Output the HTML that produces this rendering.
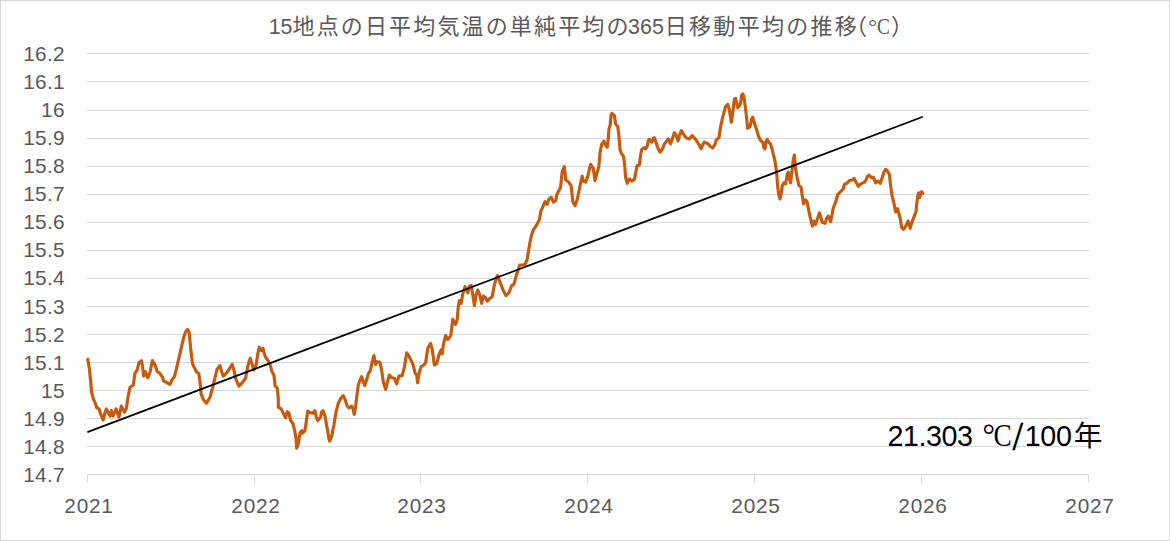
<!DOCTYPE html>
<html lang="ja"><head><meta charset="utf-8"><title>15地点の日平均気温の単純平均の365日移動平均の推移</title>
<style>html,body{margin:0;padding:0;background:#fff;overflow:hidden}body{width:1170px;height:541px;position:relative;font-family:"Liberation Sans",sans-serif}svg{position:absolute;left:0;top:0;display:block}text{font-kerning:none}</style>
</head><body>
<svg width="1170" height="541" viewBox="0 0 1170 541" role="img" aria-label="15地点の日平均気温の単純平均の365日移動平均の推移（℃）">
<rect x="0" y="0" width="1170" height="541" fill="#ffffff"/>
<rect x="0.5" y="0.5" width="1169" height="540" fill="none" stroke="#d9d9d9" stroke-width="1"/>
<path d="M87.0 53.5H1089.0M87.0 81.5H1089.0M87.0 110.5H1089.0M87.0 138.5H1089.0M87.0 166.5H1089.0M87.0 194.5H1089.0M87.0 222.5H1089.0M87.0 250.5H1089.0M87.0 278.5H1089.0M87.0 306.5H1089.0M87.0 334.5H1089.0M87.0 362.5H1089.0M87.0 390.5H1089.0M87.0 418.5H1089.0M87.0 446.5H1089.0M87.0 474.5H1089.0" stroke="#d9d9d9" stroke-width="1" fill="none" shape-rendering="crispEdges"/>
<path d="M87.5 474.5V483.0M254.5 474.5V483.0M420.5 474.5V483.0M587.5 474.5V483.0M754.5 474.5V483.0M921.5 474.5V483.0M1088.5 474.5V483.0" stroke="#d9d9d9" stroke-width="1" fill="none" shape-rendering="crispEdges"/>
<g font-family="Liberation Sans, sans-serif" fill="#595959">
<text x="64.50" y="60.90" font-size="20.8" text-anchor="end" textLength="41.29" lengthAdjust="spacing">16.2</text>
<text x="64.50" y="88.97" font-size="20.8" text-anchor="end" textLength="41.29" lengthAdjust="spacing">16.1</text>
<text x="64.50" y="117.03" font-size="20.8" text-anchor="end" textLength="23.60" lengthAdjust="spacing">16</text>
<text x="64.50" y="145.10" font-size="20.8" text-anchor="end" textLength="41.29" lengthAdjust="spacing">15.9</text>
<text x="64.50" y="173.17" font-size="20.8" text-anchor="end" textLength="41.29" lengthAdjust="spacing">15.8</text>
<text x="64.50" y="201.23" font-size="20.8" text-anchor="end" textLength="41.29" lengthAdjust="spacing">15.7</text>
<text x="64.50" y="229.30" font-size="20.8" text-anchor="end" textLength="41.29" lengthAdjust="spacing">15.6</text>
<text x="64.50" y="257.37" font-size="20.8" text-anchor="end" textLength="41.29" lengthAdjust="spacing">15.5</text>
<text x="64.50" y="285.43" font-size="20.8" text-anchor="end" textLength="41.29" lengthAdjust="spacing">15.4</text>
<text x="64.50" y="313.50" font-size="20.8" text-anchor="end" textLength="41.29" lengthAdjust="spacing">15.3</text>
<text x="64.50" y="341.57" font-size="20.8" text-anchor="end" textLength="41.29" lengthAdjust="spacing">15.2</text>
<text x="64.50" y="369.63" font-size="20.8" text-anchor="end" textLength="41.29" lengthAdjust="spacing">15.1</text>
<text x="64.50" y="397.70" font-size="20.8" text-anchor="end" textLength="23.60" lengthAdjust="spacing">15</text>
<text x="64.50" y="425.77" font-size="20.8" text-anchor="end" textLength="41.29" lengthAdjust="spacing">14.9</text>
<text x="64.50" y="453.83" font-size="20.8" text-anchor="end" textLength="41.29" lengthAdjust="spacing">14.8</text>
<text x="64.50" y="481.90" font-size="20.8" text-anchor="end" textLength="41.29" lengthAdjust="spacing">14.7</text>
<text x="88.60" y="512.50" font-size="20.8" text-anchor="middle" textLength="48.59" lengthAdjust="spacing">2021</text>
<text x="255.60" y="512.50" font-size="20.8" text-anchor="middle" textLength="48.59" lengthAdjust="spacing">2022</text>
<text x="421.60" y="512.50" font-size="20.8" text-anchor="middle" textLength="48.59" lengthAdjust="spacing">2023</text>
<text x="588.60" y="512.50" font-size="20.8" text-anchor="middle" textLength="48.59" lengthAdjust="spacing">2024</text>
<text x="755.60" y="512.50" font-size="20.8" text-anchor="middle" textLength="48.59" lengthAdjust="spacing">2025</text>
<text x="922.60" y="512.50" font-size="20.8" text-anchor="middle" textLength="48.59" lengthAdjust="spacing">2026</text>
<text x="1089.60" y="512.50" font-size="20.8" text-anchor="middle" textLength="48.59" lengthAdjust="spacing">2027</text>
</g>
<path d="M87.8 359.4L89.4 368.9L90.6 381.0L91.7 392.8L93.3 398.9L95.6 403.9L96.7 407.8L99.1 408.9L100.6 413.9L103.1 420.0L105.0 412.8L106.4 408.9L109.1 414.4L110.0 416.1L111.4 410.6L113.0 416.1L116.1 408.9L118.9 417.2L121.3 406.1L124.4 412.2L126.4 408.3L127.8 398.3L130.0 387.2L133.3 385.0L135.0 373.0L137.2 370.0L138.9 362.8L141.4 360.6L142.6 366.7L143.6 376.1L145.6 371.7L147.6 377.8L149.8 373.3L152.4 360.6L155.3 365.6L157.2 371.7L160.0 373.3L162.8 377.8L163.3 380.6L170.0 384.4L172.2 379.4L174.4 376.7L176.4 368.9L180.0 353.3L183.9 336.7L185.6 331.7L187.6 329.4L189.1 332.2L190.6 347.8L192.4 363.3L194.4 367.8L196.7 372.2L198.7 373.3L200.0 381.5L201.1 393.9L203.3 399.4L206.4 403.3L210.0 397.2L212.8 387.2L215.6 375.0L217.2 368.9L220.0 365.6L221.7 371.7L223.3 376.1L227.2 372.2L229.4 368.9L232.2 364.4L234.1 370.6L235.6 378.3L238.9 386.1L242.2 382.8L245.6 378.3L247.8 366.1L250.2 358.3L252.2 364.4L253.7 370.0L256.1 365.0L257.8 353.9L259.2 347.2L261.4 350.6L263.0 348.3L265.0 356.1L268.3 361.1L270.6 366.1L271.7 371.1L273.9 375.0L275.2 386.1L277.2 387.8L278.3 398.3L278.3 407.2L281.1 408.9L283.3 413.3L285.6 417.8L287.2 411.7L288.9 412.8L290.6 420.6L292.8 423.3L294.4 429.4L295.9 437.2L296.7 448.3L298.3 443.9L300.0 432.8L301.7 430.6L302.2 433.3L304.8 431.1L306.1 422.8L307.8 411.1L310.6 412.8L312.8 413.3L315.0 410.6L316.3 417.2L317.8 420.6L320.6 417.2L321.7 411.7L323.0 410.6L325.0 416.1L327.2 428.3L328.9 438.3L329.7 441.1L331.7 436.1L333.9 425.0L336.1 411.7L338.3 403.3L341.1 397.8L343.3 395.6L345.0 399.4L347.2 406.1L348.9 407.8L351.7 406.1L353.3 409.4L354.2 414.4L355.6 407.2L356.7 397.0L358.3 385.0L360.0 380.0L361.7 376.7L363.3 381.7L364.8 385.6L366.7 379.4L368.3 373.9L370.3 370.6L372.2 361.7L373.9 355.6L375.6 364.4L377.2 361.7L380.0 362.2L381.7 370.6L383.3 381.7L385.6 389.4L387.2 382.8L389.4 375.0L391.7 377.8L394.4 378.3L396.7 383.9L398.9 376.1L402.2 375.6L404.4 367.2L406.7 352.8L408.9 356.1L412.8 363.9L415.0 372.8L416.7 375.6L417.6 382.8L418.9 373.9L421.1 366.7L423.9 365.0L425.6 362.8L427.8 348.3L430.6 343.3L432.2 349.4L433.3 357.2L434.4 365.0L436.7 363.9L438.9 355.0L441.1 350.0L442.2 353.9L443.3 345.0L445.6 335.6L447.8 339.4L450.6 336.1L451.7 328.3L452.8 319.4L455.6 324.4L457.2 319.4L458.3 306.1L459.4 300.6L461.1 303.5L462.8 293.9L465.0 286.7L467.8 292.8L469.4 286.1L471.3 285.6L472.8 295.0L474.4 305.6L476.1 295.0L477.8 290.0L479.4 293.9L481.7 303.3L483.3 296.1L485.6 297.8L487.2 301.1L490.0 298.3L492.2 296.7L493.9 287.2L495.6 280.6L497.4 275.6L499.4 280.6L502.8 289.4L505.9 295.6L508.9 292.8L511.7 285.6L513.9 284.4L516.1 276.1L518.3 269.4L519.7 265.0L522.8 265.0L525.0 264.4L527.2 259.4L528.3 252.2L530.0 242.2L531.7 234.4L533.3 230.0L536.7 225.0L539.4 219.4L541.1 210.0L541.7 209.4L545.0 201.7L547.2 204.4L548.9 198.9L551.1 197.2L553.3 202.2L555.8 200.6L556.7 195.0L558.3 191.7L560.6 187.2L562.2 171.7L564.4 166.7L565.8 180.0L568.3 181.7L571.1 185.6L572.8 201.7L575.0 205.6L577.2 199.4L578.9 191.7L580.6 182.8L582.2 176.1L583.3 181.1L585.6 182.2L587.8 176.1L590.6 164.4L593.3 168.3L595.0 180.6L596.7 173.9L598.9 166.1L600.0 152.8L601.7 144.4L603.9 141.1L605.6 145.0L607.2 147.2L608.3 138.3L608.9 129.4L610.2 125.0L611.1 115.0L612.0 113.3L614.4 115.6L615.6 123.9L617.8 126.7L618.9 136.1L620.0 149.4L621.1 152.8L623.3 156.1L624.4 162.0L625.6 177.2L627.2 183.3L629.4 178.9L631.7 181.1L634.4 179.4L635.6 172.8L637.2 165.6L639.4 165.0L640.6 155.0L641.7 149.4L643.9 147.8L645.6 148.9L647.2 146.1L648.3 140.6L649.4 139.4L651.7 142.2L653.3 138.3L654.4 137.8L656.1 142.8L658.3 148.9L660.2 152.2L662.2 149.4L664.4 143.9L668.3 138.9L670.6 143.9L672.8 137.2L674.4 132.8L676.1 135.0L678.0 141.1L680.0 133.9L681.4 130.6L683.3 133.9L686.1 137.8L689.4 138.9L692.2 135.6L695.6 139.4L698.9 144.4L701.1 148.9L702.8 144.4L704.4 142.2L708.3 143.9L710.6 146.7L712.8 147.8L715.0 144.4L716.1 140.0L718.9 137.8L720.6 126.7L722.8 116.7L725.6 106.7L727.8 104.4L729.4 110.0L731.3 122.2L732.8 112.2L734.4 98.9L735.6 98.3L737.8 107.8L740.6 103.3L741.7 95.0L742.8 93.9L743.9 96.7L745.6 108.9L746.7 118.9L747.6 128.3L750.0 126.7L751.7 118.9L752.8 117.2L754.4 123.3L756.7 130.0L758.3 135.6L760.6 140.6L762.8 142.2L763.9 147.8L765.0 148.9L766.1 141.1L767.2 139.4L768.9 142.8L770.6 143.9L772.8 152.2L775.0 161.1L776.7 173.3L777.8 187.8L778.9 195.6L780.0 198.9L781.1 194.4L782.2 185.6L783.9 182.8L785.6 183.9L787.2 174.4L788.3 172.2L789.4 178.9L790.6 182.8L791.7 173.3L793.3 159.4L794.4 155.0L795.6 168.9L797.2 177.8L798.9 185.6L801.1 187.2L802.2 195.6L803.6 203.9L805.6 200.0L807.2 202.2L808.9 211.1L810.6 218.9L812.4 226.1L813.9 221.1L815.6 224.4L817.8 217.8L819.4 212.8L821.1 218.3L822.2 222.2L825.0 223.3L826.7 218.3L828.3 216.1L830.6 221.7L831.7 216.7L833.3 207.8L835.6 202.2L837.8 194.4L840.6 191.7L843.3 188.9L844.4 184.4L847.2 183.0L849.4 180.6L852.2 180.0L853.9 178.3L856.1 182.2L858.3 186.3L861.1 183.6L864.2 182.4L866.1 180.0L867.2 176.7L868.9 175.1L871.7 177.8L873.3 177.2L875.6 182.9L877.8 180.9L880.3 183.3L882.2 177.8L883.9 172.2L885.6 169.4L887.8 171.7L889.4 174.4L890.6 185.6L892.0 195.5L894.1 204.0L895.6 212.0L897.5 208.7L898.6 212.5L900.4 219.5L901.7 227.5L903.5 229.4L905.8 226.1L908.0 221.0L909.4 225.0L910.2 228.3L911.7 222.8L913.9 217.2L916.1 211.4L916.8 203.0L917.9 195.3L918.8 192.8L919.7 197.5L921.7 191.7L922.9 193.3" stroke="#c85a0e" stroke-width="3.15" fill="none" stroke-linejoin="round" stroke-linecap="round"/>
<path d="M87.4 432.15L922.9 116.75" stroke="#000000" stroke-width="1.8" fill="none"/>
<g font-family="Liberation Sans, sans-serif" fill="#595959"><text x="268.70" y="33.90" font-size="21.4">15</text><text x="628.10" y="33.90" font-size="21.4">365</text></g>
<text x="292.5" y="33.6" font-size="22" fill="#595959" font-family="'Liberation Sans', 'Noto Sans CJK JP', sans-serif" textLength="336" lengthAdjust="spacing">地点の日平均気温の単純平均の</text>
<text x="664.8" y="33.6" font-size="22" fill="#595959" font-family="'Liberation Sans', 'Noto Sans CJK JP', sans-serif" textLength="192" lengthAdjust="spacing">日移動平均の推移</text>
<text x="867" y="33.6" font-size="22" fill="#595959" text-anchor="end" font-family="'Liberation Sans', 'Noto Sans CJK JP', sans-serif">（</text>
<text x="891" y="33.6" font-size="22" fill="#595959" font-family="'Liberation Sans', 'Noto Sans CJK JP', sans-serif">）</text>
<g fill="#595959"><text x="868.20" y="33.60" font-size="22" font-family="Liberation Serif, serif">°</text><text transform="translate(877.00 34.10) scale(0.86 1)" font-size="22.5" font-family="Liberation Serif, serif">C</text></g>
<g fill="#000000" font-family="Liberation Sans, sans-serif">
<text x="887.50" y="445.90" font-size="28.7" textLength="85.59" lengthAdjust="spacing">21.303</text>
<text x="982.60" y="446.10" font-size="31" font-family="Liberation Serif, serif">°</text>
<text transform="translate(993.60 446.10) scale(0.88 1)" font-size="31" font-family="Liberation Serif, serif">C</text>
<text transform="matrix(1.05 0 -0.108 1.25 1012.3 449.85)" font-size="30">/</text>
<text x="1024.70" y="445.90" font-size="28.7" textLength="47.17" lengthAdjust="spacing">100</text>
<text x="1073.8" y="445.90" font-size="28.7" font-family="'Liberation Sans', 'Noto Sans CJK JP', sans-serif">年</text>
</g>
</svg>
</body></html>
